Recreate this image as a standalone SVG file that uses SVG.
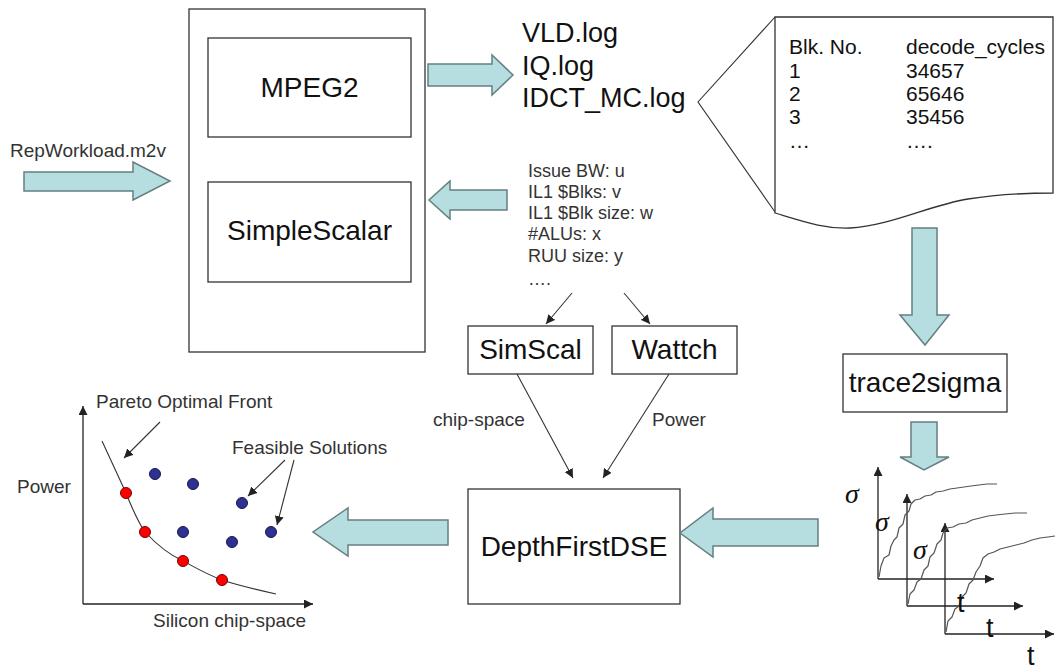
<svg xmlns="http://www.w3.org/2000/svg" width="1055" height="669" viewBox="0 0 1055 669">
  <defs>
    <style>
      .box { fill: #ffffff; stroke: #333333; stroke-width: 1.3; }
      .blk { fill: #b6dde0; stroke: #657f80; stroke-width: 1.5; stroke-linejoin: miter; }
      .big { font-family: "Liberation Sans", Arial, sans-serif; font-size: 28px; fill: #111111; }
      .log { font-family: "Liberation Sans", Arial, sans-serif; font-size: 27px; fill: #111111; }
      .tbl { font-family: "Liberation Sans", Arial, sans-serif; font-size: 21px; fill: #111111; }
      .lbl { font-family: "Liberation Sans", Arial, sans-serif; font-size: 19px; fill: #333333; }
      .par { font-family: "Liberation Sans", Arial, sans-serif; font-size: 18px; fill: #333333; }
      .thin { fill: none; stroke: #333333; stroke-width: 1.1; }
      .ax { fill: none; stroke: #222222; stroke-width: 1.3; }
      .wave { fill: none; stroke: #555555; stroke-width: 1.2; stroke-linejoin: round; }
      .sig { font-family: "Liberation Serif", "Times New Roman", serif; font-style: italic; font-size: 28px; fill: #111111; }
      .tt { font-family: "Liberation Sans", Arial, sans-serif; font-size: 27px; fill: #111111; }
      .red { fill: #ff0000; stroke: #7a0000; stroke-width: 1; }
      .blue { fill: #2e3192; stroke: #15174d; stroke-width: 1; }
    </style>
    <marker id="ah" viewBox="0 0 10 10" refX="10" refY="5" markerWidth="9" markerHeight="9" markerUnits="userSpaceOnUse" orient="auto">
      <path d="M0,0 L10,5 L0,10 Z" fill="#222222"/>
    </marker>
  </defs>

  <!-- simulator host box with its two tools -->
  <g id="host">
    <rect class="box" x="189" y="9" width="236" height="343"/>
  </g>
  <g id="mpeg2">
    <rect class="box" x="208" y="38" width="203" height="99"/>
    <text class="big" x="309.5" y="97" text-anchor="middle">MPEG2</text>
  </g>
  <g id="simplescalar">
    <rect class="box" x="208" y="182" width="203" height="100"/>
    <text class="big" x="309.5" y="240" text-anchor="middle">SimpleScalar</text>
  </g>

  <!-- workload input -->
  <g id="workload">
    <text class="lbl" x="10" y="157">RepWorkload.m2v</text>
  </g>

  <!-- log files -->
  <g id="logs">
    <text class="log" x="522" y="42">VLD.log</text>
    <text class="log" x="522" y="75">IQ.log</text>
    <text class="log" x="522" y="107">IDCT_MC.log</text>
  </g>

  <!-- callout with the trace table -->
  <g id="trace-table">
    <path class="thin" d="M775,17 L698,102 L775,212" stroke="#555555"/>
    <path class="box" d="M775,17 H1053 V193 C1030,193 1000,194 968,199 C930,205 890,226 850,228 C825,229 805,222 775,213 Z"/>
    <text class="tbl" x="789" y="54">Blk. No.</text>
    <text class="tbl" x="906" y="54">decode_cycles</text>
    <text class="tbl" x="789" y="78">1</text>
    <text class="tbl" x="906" y="78">34657</text>
    <text class="tbl" x="789" y="101">2</text>
    <text class="tbl" x="906" y="101">65646</text>
    <text class="tbl" x="789" y="124">3</text>
    <text class="tbl" x="906" y="124">35456</text>
    <text class="tbl" x="789" y="148">…</text>
    <text class="tbl" x="906" y="148">….</text>
  </g>

  <!-- configuration parameters -->
  <g id="params">
    <text class="par" x="528" y="177">Issue BW: u</text>
    <text class="par" x="528" y="198">IL1 $Blks: v</text>
    <text class="par" x="528" y="219">IL1 $Blk size: w</text>
    <text class="par" x="528" y="240">#ALUs: x</text>
    <text class="par" x="528" y="262">RUU size: y</text>
    <text class="par" x="528" y="285">….</text>
  </g>

  <g id="simscal">
    <rect class="box" x="468" y="326" width="125" height="48"/>
    <text class="big" x="530.5" y="359" text-anchor="middle">SimScal</text>
  </g>
  <g id="wattch">
    <rect class="box" x="612" y="326" width="125" height="48"/>
    <text class="big" x="674.5" y="359" text-anchor="middle">Wattch</text>
  </g>

  <g id="dse">
    <rect class="box" x="468" y="489" width="212" height="115"/>
    <text class="big" x="574" y="556" text-anchor="middle">DepthFirstDSE</text>
  </g>

  <g id="trace2sigma">
    <rect class="box" x="843" y="354" width="164" height="58"/>
    <text class="big" x="925" y="392" text-anchor="middle">trace2sigma</text>
  </g>

  <!-- Pareto plot -->
  <g id="pareto-plot">
    <line class="ax" x1="83" y1="604" x2="83" y2="406" marker-end="url(#ah)"/>
    <line class="ax" x1="83" y1="604" x2="313" y2="604" marker-end="url(#ah)"/>
    <path class="thin" d="M102,441 L126,493 C132,508 138,522 145,532 C158,546 170,555 183,561 C196,568 208,575 222,580 C240,586 258,590 276,594"/>
    <line class="thin" x1="160" y1="422" x2="124" y2="458" marker-end="url(#ah)"/>
    <line class="thin" x1="285" y1="460" x2="248" y2="496" marker-end="url(#ah)"/>
    <line class="thin" x1="294" y1="460" x2="277" y2="525" marker-end="url(#ah)"/>
    <circle class="blue" cx="155" cy="474" r="5.5"/>
    <circle class="blue" cx="193" cy="484" r="5.5"/>
    <circle class="blue" cx="242" cy="503" r="5.5"/>
    <circle class="blue" cx="183" cy="532" r="5.5"/>
    <circle class="blue" cx="232" cy="542" r="5.5"/>
    <circle class="blue" cx="271" cy="532" r="5.5"/>
    <circle class="red" cx="126" cy="493" r="5.5"/>
    <circle class="red" cx="145" cy="532" r="5.5"/>
    <circle class="red" cx="183" cy="561" r="5.5"/>
    <circle class="red" cx="222" cy="580" r="5.5"/>
    <text class="lbl" x="96" y="408">Pareto Optimal Front</text>
    <text class="lbl" x="232" y="454">Feasible Solutions</text>
    <text class="lbl" x="17" y="493">Power</text>
    <text class="lbl" x="153" y="627">Silicon chip-space</text>
  </g>

  <!-- sigma curves -->
  <g id="sigma-curves">
    <line class="ax" x1="878" y1="579" x2="878" y2="467" marker-end="url(#ah)"/>
    <line class="ax" x1="878" y1="579" x2="994" y2="579" marker-end="url(#ah)"/>
    <line class="ax" x1="907" y1="606" x2="907" y2="494" marker-end="url(#ah)"/>
    <line class="ax" x1="907" y1="606" x2="1023" y2="606" marker-end="url(#ah)"/>
    <line class="ax" x1="945" y1="634" x2="945" y2="523" marker-end="url(#ah)"/>
    <line class="ax" x1="945" y1="634" x2="1054" y2="634" marker-end="url(#ah)"/>
    <polyline class="wave" points="879,577 881,566 884,558 889,555 891,546 894,540 897,537 899,528 903,524 905,515 909,511 911,504 915,500 920,499 925,496 931,495 936,492 943,491 950,489 957,488 964,487 971,486 979,485 987,484 997,484"/>
    <polyline class="wave" points="908,604 910,594 914,590 917,582 921,579 924,570 928,566 930,557 934,553 937,544 941,540 943,533 947,528 953,527 959,524 966,523 972,520 980,518 988,516 996,515 1005,514 1015,513 1027,513"/>
    <polyline class="wave" points="946,632 948,621 952,617 955,609 959,606 962,597 966,593 969,584 973,580 976,572 980,566 983,558 988,554 994,552 1000,549 1008,547 1016,545 1024,543 1032,540 1040,538 1048,537 1055,536"/>
    <text class="sig" x="845" y="503">σ</text>
    <text class="sig" x="875" y="531">σ</text>
    <text class="sig" x="913" y="559">σ</text>
    <text class="tt" x="957" y="612">t</text>
    <text class="tt" x="986" y="637">t</text>
    <text class="tt" x="1027" y="665">t</text>
  </g>

  <!-- connectors -->
  <g id="connectors">
    <path class="blk" d="M24,172 H133 V162 L170,181 L133,200 V191 H24 Z"/>
    <path class="blk" d="M428,64 H492 V55 L513,75 L492,95 V86 H428 Z"/>
    <path class="blk" d="M507,190 H450 V181 L429,200 L450,219 V210 H507 Z"/>
    <path class="blk" d="M912,228 H937 V315 H949 L925,345 L900,315 H912 Z"/>
    <path class="blk" d="M911,422 H937 V457 H949 L924,470 L900,457 H911 Z"/>
    <path class="blk" d="M818,519 H713 V508 L680,533 L713,557 V546 H818 Z"/>
    <path class="blk" d="M448,520 H348 V508 L313,532 L348,556 V545 H448 Z"/>
    <line class="thin" x1="572" y1="293" x2="546" y2="324" marker-end="url(#ah)"/>
    <line class="thin" x1="624" y1="293" x2="650" y2="324" marker-end="url(#ah)"/>
    <line class="thin" x1="517" y1="374" x2="573" y2="478" marker-end="url(#ah)"/>
    <line class="thin" x1="669" y1="374" x2="603" y2="478" marker-end="url(#ah)"/>
    <text class="lbl" x="433" y="426">chip-space</text>
    <text class="lbl" x="652" y="426">Power</text>
  </g>
</svg>
